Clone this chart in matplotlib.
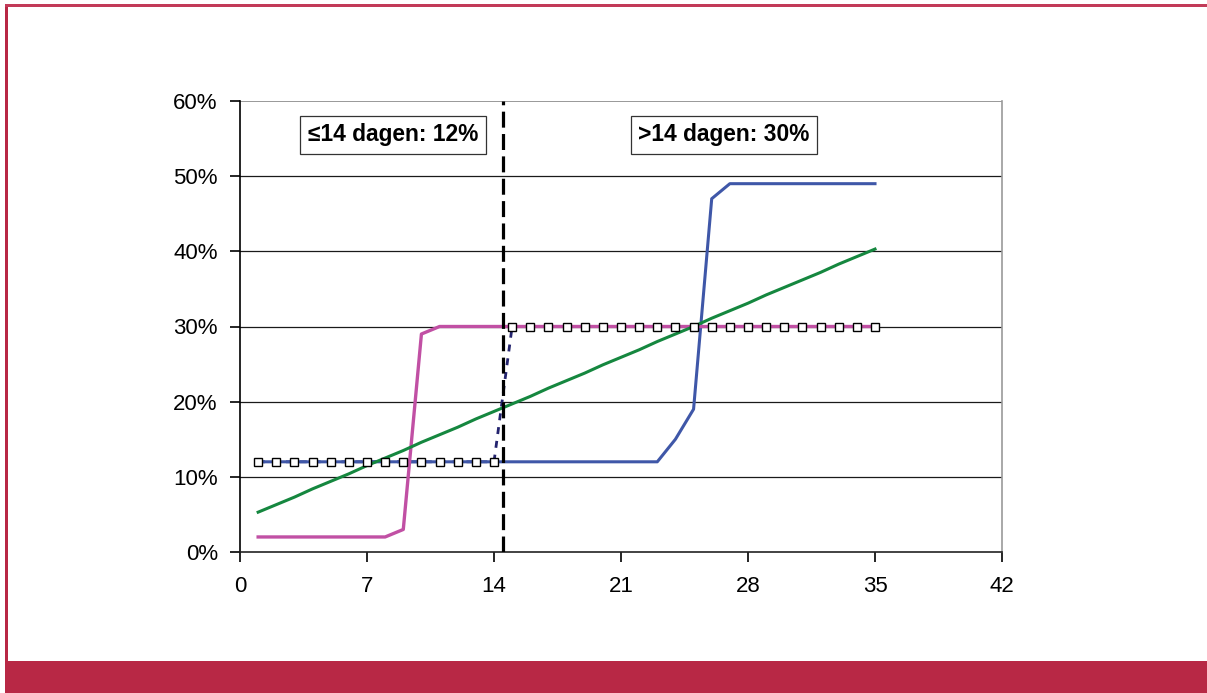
import matplotlib
matplotlib.use("Agg")
import matplotlib.pyplot as plt
from matplotlib.patches import Rectangle
from matplotlib.ticker import FuncFormatter

plt.rcParams['font.family'] = ['Liberation Sans', 'DejaVu Sans']

days = list(range(1, 36))
blue = [12]*23 + [15, 19, 47] + [49]*9
pink = [2]*8 + [3, 29] + [30]*25
green = [5.3, 6.3, 7.3, 8.4, 9.4, 10.4, 11.5, 12.5, 13.5, 14.6, 15.6, 16.6,
         17.7, 18.7, 19.7, 20.7, 21.8, 22.8, 23.8, 24.9, 25.9, 26.9, 28.0,
         29.0, 30.0, 31.1, 32.1, 33.1, 34.2, 35.2, 36.2, 37.2, 38.3, 39.3, 40.3]
step = [12]*14 + [30]*21
cutoff = 14.5
labels = ["\u226414 dagen: 12%", ">14 dagen: 30%"]
label_x = [8.43, 26.68]
label_y = 55.5
xticks = [0, 7, 14, 21, 28, 35, 42]
yticks = [0, 10, 20, 30, 40, 50, 60]

RED = '#B82845'
fig = plt.figure(figsize=(12.07, 6.93), dpi=100)
# frame decoration
fig.patches.append(Rectangle((5/1207, 0), 1 - 5/1207, 32/693, transform=fig.transFigure,
                             facecolor=RED, edgecolor='none', zorder=0))
fig.patches.append(Rectangle((5/1207, 0), 2.5/1207, 1 - 4/693, transform=fig.transFigure,
                             facecolor=RED, edgecolor='none', zorder=0))
fig.patches.append(Rectangle((5/1207, 1 - 7/693), 1 - 5/1207, 3/693, transform=fig.transFigure,
                             facecolor='#C23A58', edgecolor='none', zorder=0))

ax = fig.add_axes([240/1207, 1 - 552/693, 762/1207, 451/693])
ax.set_xlim(0, 42)
ax.set_ylim(0, 60)

for yv in yticks[1:-1]:
    ax.axhline(yv, color='#1a1a1a', lw=0.9, zorder=1)
ax.axhline(60, color='#888888', lw=1.2, zorder=1)

ax.plot(days, step, color='#23236E', lw=2.0, ls=(0, (2.5, 2.5)), zorder=2)
ax.plot(days, blue, color='#3F57A8', lw=2.2, zorder=3)
ax.plot(days, pink, color='#C150A4', lw=2.4, zorder=3)
ax.plot(days, green, color='#15873F', lw=2.2, zorder=3)
ax.plot(days, step, ls='none', marker='s', markersize=5.6, markerfacecolor='white',
        markeredgecolor='black', markeredgewidth=1.0, zorder=5)

ax.axvline(cutoff, color='black', lw=2.3, ls=(0, (5, 2)), zorder=6)

for lx, txt in zip(label_x, labels):
    ax.text(lx, label_y, txt, ha='center', va='center', fontsize=16.4, fontweight='bold',
            zorder=7,
            bbox=dict(boxstyle='square,pad=0.33', facecolor='white', edgecolor='#333333', lw=0.9))

ax.set_xticks(xticks)
ax.set_yticks(yticks)
ax.yaxis.set_major_formatter(FuncFormatter(lambda v, p: f"{int(v)}%"))
ax.tick_params(axis='both', direction='out', length=7, width=1.2, labelsize=16, colors='black')
ax.tick_params(axis='y', pad=9)
ax.tick_params(axis='x', pad=10)

ax.spines['top'].set_visible(False)
ax.spines['right'].set_color('#999999')
ax.spines['right'].set_linewidth(1.2)
ax.spines['left'].set_linewidth(1.2)
ax.spines['bottom'].set_linewidth(1.2)
ax.spines['bottom'].set_color('#222222')

fig.savefig('out.png', dpi=100)
